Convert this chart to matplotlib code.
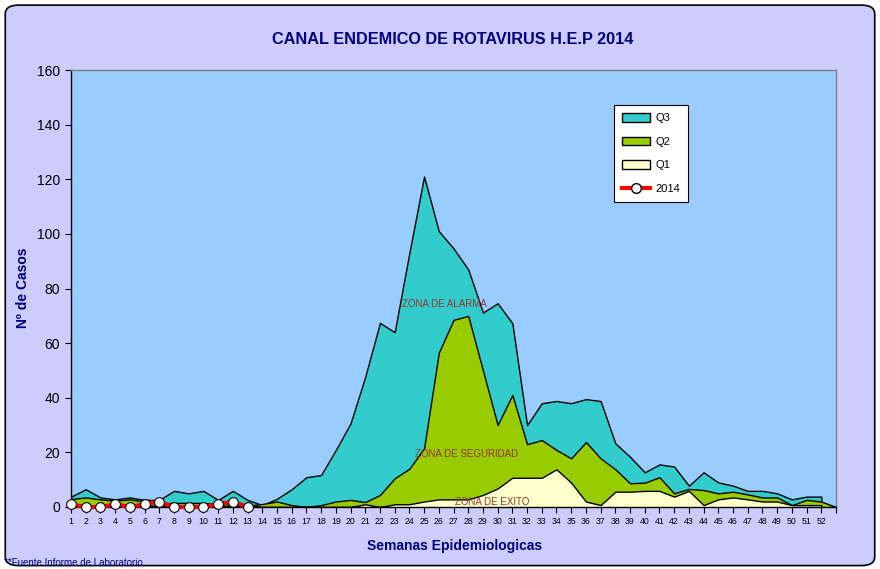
import matplotlib
matplotlib.use("Agg")
import matplotlib.pyplot as plt
from matplotlib.patches import FancyBboxPatch, Patch
from matplotlib.lines import Line2D
import numpy as np

plt.rcParams['font.family'] = ['Liberation Sans', 'DejaVu Sans']

weeks = list(range(1, 53))
weeks_ext = list(range(1, 54))
tick_labels = [str(w) for w in weeks] + [""]

q3 = [3.8, 6.5, 3.5, 2.8, 3.5, 2.6, 2.6, 5.9, 5, 5.9, 2.6, 5.9, 2.6, 0.7, 3, 6.5,
      10.9, 11.7, 20.9, 30.6, 47.7, 67.4, 64, 93, 121, 101, 94.7, 87, 71.2, 74.6,
      67.3, 30, 38, 38.8, 38, 39.5, 38.8, 23.3, 18.4, 12.7, 15.6, 14.8, 7.8, 12.7,
      9, 7.8, 5.9, 5.9, 5, 2.8, 3.8, 3.8]
q2 = [2.9, 3.5, 2.8, 2.3, 2.8, 2, 1.2, 1.5, 1.5, 1.5, 1, 1.5, 0.5, 1.1, 2, 0.7,
      0, 0.7, 2, 2.6, 1.8, 4.4, 10.5, 14, 21.5, 56.5, 68.5, 70, 50, 30, 41, 23,
      24.5, 20.9, 17.8, 23.8, 17.8, 13.8, 8.7, 8.9, 10.9, 5, 6.6, 6.2, 5, 5.6,
      4.6, 3.5, 3.5, 0.7, 2.6, 2, 0]
q1 = [0.5, 0.5, 0.5, 0.5, 0.5, 0.5, 0.5, 0.5, 0.5, 0.5, 0.5, 0.5, 0.5, 0, 0, 0,
      0, 0, 0, 0, 1, 0, 1, 1, 2, 2.8, 2.8, 2.8, 4.4, 6.8, 10.7, 10.7, 10.7, 13.8,
      8.9, 2, 0.7, 5.6, 5.6, 5.9, 5.9, 3.8, 5.9, 0.7, 2.8, 3.5, 2.8, 2, 2, 0.7,
      0.7, 0.7]
weeks_2014 = list(range(1, 14))
cases_2014 = [1, 0, 0, 1, 0, 1, 2, 0, 0, 0, 1, 2, 0]

navy = "#000080"
zone_color = "#993333"

fig = plt.figure(figsize=(8.8, 5.69), dpi=100, facecolor="white")
bg = FancyBboxPatch((0.006, 0.006), 0.988, 0.985, boxstyle="round,pad=0,rounding_size=0.015",
                    transform=fig.transFigure, facecolor="#CCCCFF", edgecolor="black",
                    linewidth=1.2, zorder=-10)
fig.patches.append(bg)

ax = fig.add_axes([71/880, 1-507/569, (836-71)/880, (507-70)/569])
ax.set_facecolor("#99CCFF")

ax.fill_between(weeks, q3, 0, facecolor="#33CCCC", edgecolor="black", linewidth=1.0, zorder=2)
ax.fill_between(weeks_ext, q2, 0, facecolor="#99CC00", edgecolor="black", linewidth=1.0, zorder=3)
ax.fill_between(weeks, q1, 0, facecolor="#FFFFCC", edgecolor="black", linewidth=1.0, zorder=4)
ax.plot(weeks_2014, cases_2014, color="red", linewidth=3, marker="o", markersize=7,
        markerfacecolor="white", markeredgecolor="black", markeredgewidth=0.8, zorder=6,
        clip_on=False)

ax.set_xlim(1, 53)
ax.set_ylim(0, 160)
ax.set_yticks(np.arange(0, 161, 20))
ax.set_xticks(weeks_ext)
ax.set_xticklabels(tick_labels, fontsize=6.3)
ax.tick_params(axis='y', labelsize=10, direction='out', length=4, width=0.8, pad=4)
ax.tick_params(axis='x', direction='out', length=4, width=0.8, pad=3)

for s in ["left", "bottom"]:
    ax.spines[s].set_color("black")
    ax.spines[s].set_linewidth(1.0)
for s in ["top", "right"]:
    ax.spines[s].set_color("#808080")
    ax.spines[s].set_linewidth(1.0)

ax.text(26.35, 74.5, "ZONA DE ALARMA", fontsize=7, color=zone_color, ha="center", va="center", zorder=7)
ax.text(27.9, 19.4, "ZONA DE SEGURIDAD", fontsize=7, color=zone_color, ha="center", va="center", zorder=7)
ax.text(29.65, 1.8, "ZONA DE EXITO", fontsize=7, color=zone_color, ha="center", va="center", zorder=7)

fig.text(453/880, 1-40/569, "CANAL ENDEMICO DE ROTAVIRUS H.E.P 2014", fontsize=11.7,
         fontweight="bold", color=navy, ha="center", va="center")
fig.text(23/880, 1-288/569, "Nº de Casos", fontsize=10, fontweight="bold", color=navy,
         ha="center", va="center", rotation=90)
fig.text(455/880, 1-546/569, "Semanas Epidemiologicas", fontsize=10, fontweight="bold",
         color=navy, ha="center", va="center")
fig.text(4/880, 1-563/569, "**Fuente Informe de Laboratorio", fontsize=7, color=navy,
         ha="left", va="center")

handles = [Patch(facecolor="#33CCCC", edgecolor="black", label="Q3"),
           Patch(facecolor="#99CC00", edgecolor="black", label="Q2"),
           Patch(facecolor="#FFFFCC", edgecolor="black", label="Q1"),
           Line2D([0], [0], color="red", linewidth=3, marker="o", markersize=7,
                  markerfacecolor="white", markeredgecolor="black", label="2014")]
leg = ax.legend(handles=handles, loc="upper left", bbox_to_anchor=(543/765, 402/437),
                borderaxespad=0, fontsize=8, frameon=True, fancybox=False, edgecolor="black",
                facecolor="white", framealpha=1, handlelength=2.5, handleheight=0.8,
                labelspacing=1.2, borderpad=0.75, handletextpad=0.45)
leg.get_frame().set_linewidth(0.8)
leg.set_zorder(10)

fig.savefig("out.png", dpi=100, facecolor="white")
